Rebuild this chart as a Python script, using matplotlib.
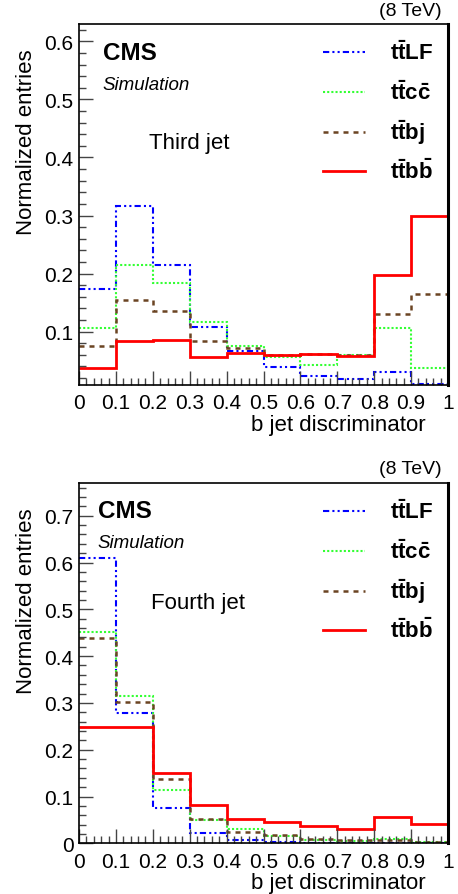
import matplotlib
matplotlib.use("Agg")
import matplotlib.pyplot as plt
import numpy as np
from matplotlib.ticker import MultipleLocator

plt.rcParams['font.family'] = ['Liberation Sans', 'DejaVu Sans']
plt.rcParams['mathtext.fontset'] = 'custom'
plt.rcParams['mathtext.rm'] = 'Liberation Sans'
plt.rcParams['mathtext.bf'] = 'Liberation Sans:bold'
plt.rcParams['mathtext.it'] = 'Liberation Sans:italic'

bin_edges = [0.0, 0.1, 0.2, 0.3, 0.4, 0.5, 0.6, 0.7, 0.8, 0.9, 1.0]

# Third jet
third_ttLF = [0.174, 0.317, 0.214, 0.1075, 0.067, 0.039, 0.024, 0.018, 0.030, 0.0098]
third_ttcc = [0.106, 0.214, 0.184, 0.116, 0.076, 0.056, 0.043, 0.059, 0.107, 0.037]
third_ttbj = [0.076, 0.155, 0.136, 0.0845, 0.072, 0.059, 0.0615, 0.060, 0.130, 0.164]
third_ttbb = [0.038, 0.083, 0.085, 0.056, 0.063, 0.060, 0.061, 0.0575, 0.197, 0.300]

# Fourth jet
fourth_ttLF = [0.610, 0.278, 0.0755, 0.0214, 0.0064, 0.002, 0.001, 0.001, 0.001, 0.001]
fourth_ttcc = [0.452, 0.314, 0.114, 0.049, 0.0306, 0.0164, 0.008, 0.005, 0.010, 0.002]
fourth_ttbj = [0.439, 0.303, 0.138, 0.053, 0.024, 0.018, 0.009, 0.0064, 0.006, 0.0035]
fourth_ttbb = [0.249, 0.249, 0.150, 0.081, 0.053, 0.046, 0.037, 0.031, 0.057, 0.042]

labels = [r'$\mathbf{t\bar{t}LF}$', r'$\mathbf{t\bar{t}c\bar{c}}$',
          r'$\mathbf{t\bar{t}bj}$', r'$\mathbf{t\bar{t}b\bar{b}}$']
colors = ['#0000ff', '#33ff33', '#6b4423', '#ff0000']
styles = [(0, (3, 1.5, 1, 1.5, 1, 1.5)), (0, (1, 1)), (0, (2, 2)), '-']
widths = [1.5, 1.5, 1.8, 2.0]

W, H = 458, 895
fig = plt.figure(figsize=(W / 100, H / 100), dpi=100)

def fx(px):
    return px / W

def fy(py):
    return 1 - py / H

panels = [
    dict(top=25, bot=386, ylim=(0.008, 0.63), data=[third_ttLF, third_ttcc, third_ttbj, third_ttbb],
         name='Third jet', name_xy=(149, 144), cms=(103, 53), sim=(102, 86), tev=11,
         leg=[53, 93, 133, 172]),
    dict(top=484, bot=844.3, ylim=(0.0, 0.77), data=[fourth_ttLF, fourth_ttcc, fourth_ttbj, fourth_ttbb],
         name='Fourth jet', name_xy=(151, 603), cms=(98, 512), sim=(97, 544), tev=470,
         leg=[512, 552, 592, 631]),
]

for p in panels:
    hpx = p['bot'] - p['top']
    ax = fig.add_axes([fx(79), fy(p['bot']), fx(448 - 79), hpx / H])
    for vals, c, ls, lw in zip(p['data'], colors, styles, widths):
        ax.stairs(vals, bin_edges, color=c, linestyle=ls, linewidth=lw, baseline=None)
    ax.set_xlim(0, 1)
    ax.set_ylim(*p['ylim'])
    ax.xaxis.set_minor_locator(MultipleLocator(0.02))
    ax.yaxis.set_minor_locator(MultipleLocator(0.02))
    ax.tick_params(which='both', direction='in', top=False, right=False, labelsize=15, color='#444444')
    ax.tick_params(which='major', length=10, width=1)
    ax.tick_params(which='minor', length=5, width=1)
    ax.tick_params(axis='x', pad=6)
    ax.tick_params(axis='y', pad=4)
    ax.set_xticks(np.round(np.arange(0, 1.01, 0.1), 1))
    ax.set_xticklabels(['0', '0.1', '0.2', '0.3', '0.4', '0.5', '0.6', '0.7', '0.8', '0.9', '1'])
    yt = np.round(np.arange(0.1 if p['ylim'][0] > 0 else 0.0, p['ylim'][1], 0.1), 1)
    ax.set_yticks(yt)
    ax.set_yticklabels(['0' if v == 0 else f'{v:.1f}' for v in yt])
    for s in ax.spines.values():
        s.set_linewidth(1.2)
    ax.spines['right'].set_linewidth(2.2)
    ax.set_xlabel('b jet discriminator', fontsize=16, ha='right', va='top')
    ax.xaxis.set_label_coords((426 - 79) / (448 - 79), -29.0 / hpx)
    ax.set_ylabel('Normalized entries', fontsize=16, ha='right', va='center')
    ax.yaxis.set_label_coords(-(79 - 27) / (448 - 79), 1.0 - 24.0 / hpx)

    fig.text(fx(442), fy(p['tev']), '(8 TeV)', fontsize=14, ha='right', va='center')
    fig.text(fx(p['cms'][0]), fy(p['cms'][1]), 'CMS', fontsize=17.5, fontweight='bold', ha='left', va='center')
    fig.text(fx(p['sim'][0]), fy(p['sim'][1]), 'Simulation', fontsize=13.5, style='italic', ha='left', va='center')
    fig.text(fx(p['name_xy'][0]), fy(p['name_xy'][1]), p['name'], fontsize=16, ha='left', va='center')

    for yl, lab, c, ls, lw in zip(p['leg'], labels, colors, styles, widths):
        fig.add_artist(matplotlib.lines.Line2D([fx(323), fx(365)], [fy(yl), fy(yl)], color=c,
                                               linestyle=ls, linewidth=lw))
        fig.text(fx(390), fy(yl), lab, fontsize=16, ha='left', va='center')

fig.savefig('out.png', dpi=100)
